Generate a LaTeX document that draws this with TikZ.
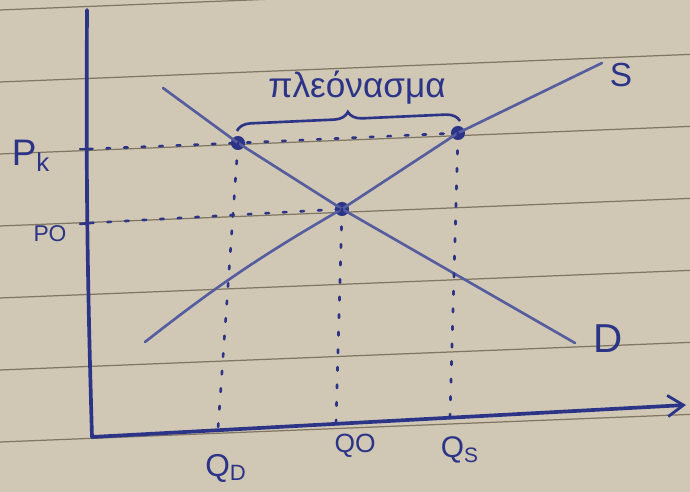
\documentclass[tikz,border=0pt]{standalone}
\usepackage{fontspec}
\setmainfont{Liberation Sans}
\usepackage{xcolor}
\usetikzlibrary{arrows.meta, decorations.pathreplacing, positioning}

\definecolor{ink}{RGB}{44,52,135}
\definecolor{paper}{RGB}{208,199,181}
\definecolor{ruling}{RGB}{128,118,98}

\begin{document}
\begin{tikzpicture}[
    x=0.02cm, y=-0.02cm,
    axis/.style={draw=ink, line width=2.1pt, line cap=round},
    curve/.style={draw=ink!80, line width=1.5pt, line cap=round, line join=round},
    guide/.style={draw=ink, line width=1.5pt, dash pattern=on 2pt off 8pt, line cap=round},
    dot/.style={circle, fill=ink, inner sep=0pt, minimum size=8pt},
    lbl/.style={text=ink, inner sep=0pt, font=\fontsize{18}{18}\selectfont}
]
    % notebook page
    \useasboundingbox (0,0) rectangle (690,492);
    \fill[paper] (0,0) rectangle (690,492);
    \foreach \r in {2,74,146,218,290,362,434}
        \draw[ruling, line width=0.7pt] (0,\r+8) -- (690,\r-19.6);

    % axes
    \coordinate (O) at (92,437);
    \coordinate (ytop) at (87,10);
    \coordinate (xend) at (686,405);
    \draw[axis] (ytop) to[bend right=1] (O);
    \draw[axis, -{Straight Barb[length=9pt, width=12pt, line width=1.6pt]}] (O) -- (xend);

    % points on the curves
    \node[dot] (K1) at (238,143) {};
    \node[dot] (E) at (342,209) {};
    \node[dot] (K2) at (458,133) {};

    % demand and supply
    \coordinate (d1) at (163,88);
    \coordinate (d2) at (575,343);
    \coordinate (s1) at (145,342);
    \coordinate (s2) at (602,63);
    \draw[curve] (d1) -- (K1.center) -- (E.center) -- (d2);
    \draw[curve] (s1) to[bend left=4] (E.center) -- (K2.center) -- (s2);

    % price levels
    \coordinate (pkax) at (89,149);
    \coordinate (poax) at (90,223);
    \draw[axis, line width=1.4pt] (80,149) -- (pkax);
    \draw[axis, line width=1.4pt] (80,224) -- (poax);
    \draw[guide] (pkax) -- (K1.center) -- (K2.center);
    \draw[guide] (poax) -- (E.center);

    % quantities
    \coordinate (qdax) at (218,429);
    \coordinate (qoax) at (336,423);
    \coordinate (qsax) at (450,417);
    \draw[guide] (K1.center) -- (qdax);
    \draw[guide] (E.center) -- (qoax);
    \draw[guide] (K2.center) -- (qsax);

    % surplus brace
    \coordinate (b1) at (237,131);
    \coordinate (b2) at (460,121);
    \draw[ink, line width=1.5pt, decorate, decoration={brace, amplitude=8pt}] (b1) -- (b2);
    \node[lbl, font=\fontsize{20}{20}\selectfont] (surplus) at (357,88) {πλεόνασμα};

    % labels
    \node[lbl, font=\fontsize{21}{21}\selectfont] (pk) at (31,156) {P\textsubscript{k}};
    \node[lbl, font=\fontsize{13}{13}\selectfont] (po) at (50,234) {PO};
    \node[lbl] (qd) at (226,468) {Q\textsubscript{D}};
    \node[lbl, font=\fontsize{15}{15}\selectfont] (qo) at (355,446) {QO};
    \node[lbl, font=\fontsize{17}{17}\selectfont] (qs) at (460,450) {Q\textsubscript{S}};
    \node[lbl, font=\fontsize{19}{19}\selectfont] (slab) at (621,75) {S};
    \node[lbl, font=\fontsize{23}{23}\selectfont] (dlab) at (608,339) {D};
\end{tikzpicture}
\end{document}
